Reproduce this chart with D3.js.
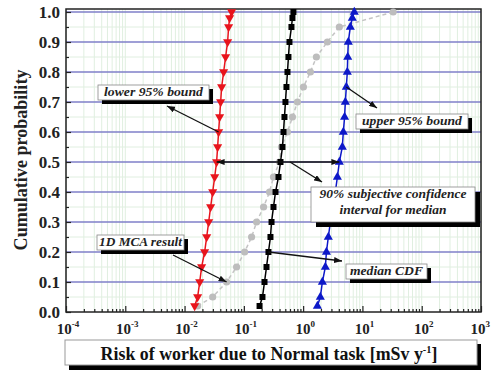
<!DOCTYPE html>
<html>
<head>
<meta charset="utf-8">
<script src="https://cdn.jsdelivr.net/npm/d3@7"></script>
<style>
    html, body { margin: 0; padding: 0; background: #fff; }
    svg { display: block; font-family: "Liberation Serif", "Times New Roman", serif; }
</style>
</head>
<body>
<svg id="chart" width="491" height="370"></svg>
<script>
// cumulative probability levels of the CDF points
const probs = [0.02, 0.05, 0.10, 0.15, 0.20, 0.25, 0.30, 0.35, 0.40, 0.45, 0.50,
               0.55, 0.60, 0.65, 0.70, 0.75, 0.80, 0.85, 0.90, 0.95, 0.98, 1.00];

// risk values [mSv/y]
const lowerBound = [0.0148, 0.0166, 0.0180, 0.0194, 0.0218, 0.0236, 0.0255, 0.0275, 0.0298, 0.0322, 0.0347,
                    0.0361, 0.0375, 0.0390, 0.0406, 0.0422, 0.0456, 0.0492, 0.0532, 0.0553, 0.0575, 0.0621];
const medianCdf  = [0.184, 0.206, 0.223, 0.241, 0.260, 0.281, 0.293, 0.316, 0.342, 0.384, 0.415,
                    0.448, 0.466, 0.484, 0.503, 0.523, 0.544, 0.565, 0.588, 0.635, 0.660, 0.686];
const upperBound = [1.74, 1.95, 2.11, 2.37, 2.47, 2.66, 2.88, 3.11, 3.49, 3.78, 4.08,
                    4.58, 4.76, 5.00, 5.15, 5.35, 5.56, 5.65, 5.78, 6.25, 6.75, 7.29];

const mcaProbs  = [0.02, 0.05, 0.10, 0.15, 0.20, 0.25, 0.30, 0.35, 0.40, 0.45, 0.50,
                   0.55, 0.60, 0.65, 0.70, 0.75, 0.80, 0.85, 0.90, 0.95, 1.00];
const mcaResult = [0.0166, 0.0298, 0.0512, 0.0754, 0.103, 0.135, 0.164, 0.215, 0.271, 0.316, 0.399,
                   0.431, 0.544, 0.660, 0.801, 1.011, 1.326, 1.673, 2.562, 4.078, 33.0];

const xExponents = [-4, -3, -2, -1, 0, 1, 2, 3];
const yTicks = [0, 0.1, 0.2, 0.3, 0.4, 0.5, 0.6, 0.7, 0.8, 0.9, 1.0];
const yMinor = [0.05, 0.15, 0.25, 0.35, 0.45, 0.55, 0.65, 0.75, 0.85, 0.95];

const svg = d3.select("#chart");

const left = 66, right = 481, bottom = 312;
const x = d3.scaleLog().domain([1e-4, 1e3]).range([left, right]);
const y = d3.scaleLinear().domain([0, 1]).range([bottom, 12]);
const frameTop = 9;

const decades = xExponents.map(e => Math.pow(10, e));
const minorX = [];
xExponents.slice(0, -1).forEach(e => {
    for (let m = 2; m <= 9; m++) minorX.push(m * Math.pow(10, e));
});

// --- grid
const grid = svg.append("g");
grid.selectAll("line.vg")
    .data(minorX.concat(decades))
    .join("line")
    .attr("x1", d => x(d)).attr("x2", d => x(d))
    .attr("y1", bottom).attr("y2", frameTop)
    .attr("stroke", "#e0efe0").attr("stroke-width", 1);

grid.selectAll("line.hg")
    .data(yMinor)
    .join("line")
    .attr("x1", left).attr("x2", right)
    .attr("y1", d => y(d)).attr("y2", d => y(d))
    .attr("stroke", "#e0efe0").attr("stroke-width", 1);

grid.selectAll("line.hm")
    .data(yTicks.slice(1))
    .join("line")
    .attr("x1", left).attr("x2", right)
    .attr("y1", d => y(d)).attr("y2", d => y(d))
    .attr("stroke", "#7f7fc8").attr("stroke-width", 1.5);

// --- frame
svg.append("rect")
    .attr("x", left).attr("y", frameTop)
    .attr("width", right - left).attr("height", bottom - frameTop)
    .attr("fill", "none").attr("stroke", "#222").attr("stroke-width", 1.5);

// --- axes
const gxMajor = svg.append("g")
    .attr("transform", `translate(0,${bottom})`)
    .call(d3.axisBottom(x).tickValues(decades).tickSize(-6).tickFormat(""));
const gxMinor = svg.append("g")
    .attr("transform", `translate(0,${bottom})`)
    .call(d3.axisBottom(x).tickValues(minorX).tickSize(-3).tickFormat(""));
[gxMajor, gxMinor].forEach(g => {
    g.select(".domain").remove();
    g.selectAll("line").attr("stroke", "#222").attr("stroke-width", 1.2);
});

const xLabels = svg.append("g")
    .attr("font-weight", "bold")
    .attr("fill", "#222");
xExponents.forEach((e, i) => {
    const last = i === xExponents.length - 1;
    const t = xLabels.append("text")
        .attr("x", last ? 490 : x(Math.pow(10, e)) + 2)
        .attr("y", 334)
        .attr("text-anchor", last ? "end" : "middle")
        .attr("font-size", 15);
    t.append("tspan").text("10");
    t.append("tspan").attr("dy", -7).attr("font-size", 9).text(e < 0 ? "-" + (-e) : e);
});

const gy = svg.append("g")
    .attr("transform", `translate(${left},0)`)
    .call(d3.axisLeft(y).tickValues(yTicks).tickSize(-5).tickPadding(6).tickFormat(d3.format(".1f")));
const gyMinor = svg.append("g")
    .attr("transform", `translate(${left},0)`)
    .call(d3.axisLeft(y).tickValues(yMinor).tickSize(-3).tickFormat(""));
[gy, gyMinor].forEach(g => {
    g.select(".domain").remove();
    g.selectAll("line").attr("stroke", "#222").attr("stroke-width", 1.2);
});
gy.selectAll("text")
    .attr("font-family", "'Liberation Serif', 'Times New Roman', serif")
    .attr("font-size", 17)
    .attr("font-weight", "bold")
    .attr("fill", "#222");

// horizontal stretch helper (the source picture is widened)
function fitWidth(sel, w, cx) {
    const len = sel.node().getComputedTextLength();
    const s = w / len;
    sel.attr("transform", `translate(${cx},0) scale(${s},1) translate(${-cx},0)`);
}

// y title
const yTitle = svg.append("g").attr("transform", "translate(27,160) rotate(-90)");
const yt = yTitle.append("text")
    .attr("x", 0).attr("y", 0)
    .attr("text-anchor", "middle")
    .attr("font-size", 19).attr("font-weight", "bold").attr("fill", "#222")
    .text("Cumulative probability");
fitWidth(yt, 181, 0);

// x title box
svg.append("rect").attr("x", 69).attr("y", 344).attr("width", 412).attr("height", 26).attr("fill", "#000");
svg.append("rect").attr("x", 65).attr("y", 340).attr("width", 412).attr("height", 25)
    .attr("fill", "#fff").attr("stroke", "#999").attr("stroke-width", 1);
const xt = svg.append("text")
    .attr("x", 269).attr("y", 360)
    .attr("text-anchor", "middle")
    .attr("font-size", 19).attr("font-weight", "bold").attr("fill", "#111");
xt.append("tspan").text("Risk of worker due to Normal task  [mSv y");
xt.append("tspan").attr("dy", -7).attr("font-size", 11).text("-1");
xt.append("tspan").attr("dy", 7).text("]");
fitWidth(xt, 337, 269);

// --- series
const line = d3.line().x(d => x(d[0])).y(d => y(d[1]));
const plot = svg.append("g");

const mcaPts = mcaResult.map((v, i) => [v, mcaProbs[i]]);
plot.append("path").datum(mcaPts).attr("d", line)
    .attr("fill", "none").attr("stroke", "#c4c4c4").attr("stroke-width", 1.5).attr("stroke-dasharray", "4,3");
plot.selectAll("circle.mca").data(mcaPts).join("circle")
    .attr("cx", d => x(d[0])).attr("cy", d => y(d[1])).attr("r", 3.6)
    .attr("fill", "#bdbdbd");

function series(vals, color, symbolType, rot, size) {
    const pts = vals.map((v, i) => [v, probs[i]]);
    plot.append("path").datum(pts).attr("d", line)
        .attr("fill", "none").attr("stroke", color).attr("stroke-width", 1.5);
    plot.selectAll(null).data(pts).join("path")
        .attr("d", d3.symbol().type(symbolType).size(size))
        .attr("transform", d => `translate(${x(d[0])},${y(d[1])}) rotate(${rot})`)
        .attr("fill", color);
}
series(medianCdf, "#000", d3.symbolSquare, 0, 36);
series(lowerBound, "#e8141c", d3.symbolTriangle, 180, 36);
series(upperBound, "#0c18c8", d3.symbolTriangle, 0, 36);

// --- annotations
const defs = svg.append("defs");
defs.append("marker")
    .attr("id", "arr").attr("viewBox", "0 0 8 6")
    .attr("refX", 8).attr("refY", 3)
    .attr("markerWidth", 8).attr("markerHeight", 6)
    .attr("markerUnits", "userSpaceOnUse")
    .attr("orient", "auto-start-reverse")
    .append("path").attr("d", "M0,0L8,3L0,6z").attr("fill", "#111");

const ann = svg.append("g");
function arrow(x1, y1, x2, y2, both) {
    const l = ann.append("line")
        .attr("x1", x1).attr("y1", y1).attr("x2", x2).attr("y2", y2)
        .attr("stroke", "#111").attr("stroke-width", 1.3)
        .attr("marker-end", "url(#arr)");
    if (both) l.attr("marker-start", "url(#arr)");
}
function callout(bx, by, w, h, lines, widths, sh) {
    ann.append("rect").attr("x", bx + sh).attr("y", by + sh).attr("width", w).attr("height", h).attr("fill", "#000");
    ann.append("rect").attr("x", bx).attr("y", by).attr("width", w).attr("height", h)
        .attr("fill", "#fff").attr("stroke", "#888").attr("stroke-width", 0.8);
    lines.forEach((s, i) => {
        const t = ann.append("text")
            .attr("x", bx + w / 2).attr("y", by + 11 + i * 16)
            .attr("text-anchor", "middle")
            .attr("font-size", 12).attr("font-weight", "bold").attr("font-style", "italic")
            .attr("fill", "#222")
            .text(s);
        fitWidth(t, widths[i], bx + w / 2);
    });
}
const ix = p => probs.indexOf(p);

arrow(x(lowerBound[ix(0.60)]), y(0.60), 167, 106);
callout(98, 85, 111, 15, ["lower 95% bound"], [99], 4);

arrow(x(upperBound[ix(0.75)]), y(0.75), 377, 108);
callout(356, 114, 112, 15, ["upper 95% bound"], [100], 4);

arrow(x(lowerBound[ix(0.50)]), y(0.50), x(upperBound[ix(0.50)]), y(0.50), true);
arrow(290, y(0.50), 322, 182);
callout(311, 187, 164, 35, ["90% subjective confidence", "interval for median"], [147, 107], 5);

arrow(x(medianCdf[ix(0.20)]), y(0.20), 342, 261);
callout(346, 264, 81, 15, ["median CDF"], [73], 4);

arrow(173, 255, x(mcaResult[mcaProbs.indexOf(0.10)]), y(0.10));
callout(97, 235, 87, 15, ["1D MCA result"], [83], 4);
</script>
</body>
</html>
